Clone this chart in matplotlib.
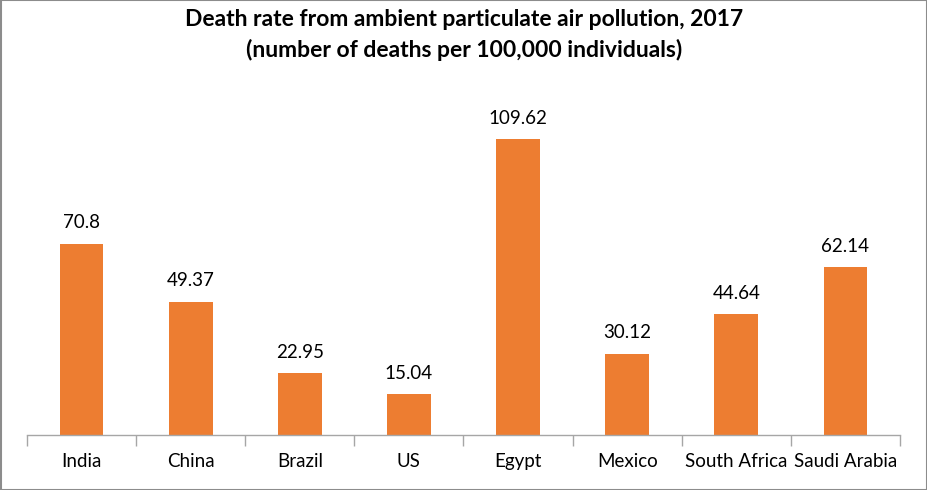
import matplotlib

matplotlib.use("Agg")
import matplotlib.pyplot as plt
from matplotlib.patches import Rectangle

countries = ["India", "China", "Brazil", "US", "Egypt", "Mexico",
             "South Africa", "Saudi Arabia"]
death_rates = [70.8, 49.37, 22.95, 15.04, 109.62, 30.12, 44.64, 62.14]
value_labels = ["70.8", "49.37", "22.95", "15.04", "109.62", "30.12",
                "44.64", "62.14"]

ORANGE = "#ED7D31"
AXIS_GRAY = "#A6A6A6"
INK = "#000000"

plt.rcParams["font.family"] = ["Lato", "DejaVu Sans"]

W, H = 928, 490
fig = plt.figure(figsize=(W / 100, H / 100), dpi=100)
fig.patch.set_facecolor("white")

# axes placed in pixel terms: baseline at y=435, categories span x=27..900
left, right, bottom, top = 27, 900, 435, 111
ax = fig.add_axes([left / W, (H - bottom) / H, (right - left) / W, (bottom - top) / H])

x = range(len(countries))
bars = ax.bar(x, death_rates, width=0.40, color=ORANGE, zorder=2)

for b, lab in zip(bars, value_labels):
    ax.annotate(lab, (b.get_x() + b.get_width() / 2, b.get_height()),
                xytext=(0, 9), textcoords="offset points",
                ha="center", va="bottom", fontsize=13.5, color=INK)

ax.set_xlim(-0.5, len(countries) - 0.5)
ax.set_ylim(0, 120)
ax.set_yticks([])
ax.set_xticks(list(x))
ax.set_xticklabels(countries, fontsize=13.5, color=INK)
ax.tick_params(axis="x", length=0, pad=13)
# Excel-style tick marks at category boundaries
ax.set_xticks([i - 0.5 for i in range(len(countries) + 1)], minor=True)
ax.tick_params(axis="x", which="minor", length=8, color=AXIS_GRAY, width=1)

for spine in ("top", "right", "left"):
    ax.spines[spine].set_visible(False)
ax.spines["bottom"].set_color(AXIS_GRAY)
ax.spines["bottom"].set_linewidth(1)

fig.text(0.5, 1 - 20 / H, "Death rate from ambient particulate air pollution, 2017",
         ha="center", va="center", fontsize=16.5, fontweight="bold", color=INK)
fig.text(0.5, 1 - 50 / H, "(number of deaths per 100,000 individuals)",
         ha="center", va="center", fontsize=16.5, fontweight="bold", color=INK)

# outer chart border
fig.add_artist(Rectangle((0.5 / W, 0.5 / H), 1 - 1 / W, 1 - 1 / H,
                         transform=fig.transFigure, fill=False,
                         edgecolor="#8C8C8C", linewidth=1.5))

fig.savefig("out.png", dpi=100, facecolor="white")
